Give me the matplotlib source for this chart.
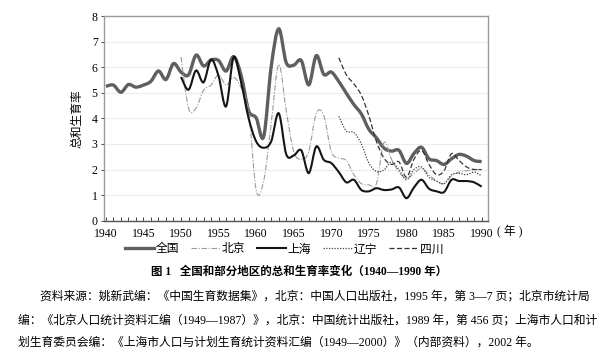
import matplotlib
matplotlib.use("Agg")
import matplotlib.pyplot as plt
from matplotlib.path import Path
from matplotlib.patches import PathPatch
from matplotlib.lines import Line2D
import numpy as np

plt.rcParams['font.family'] = ['Liberation Serif', 'Noto Sans CJK SC']

# === Données ===
annees_nat = list(range(1940, 1991))
quanguo = [5.25, 5.30, 5.02, 5.32, 5.22, 5.30, 5.45, 5.85, 5.52, 6.14,
           5.81, 5.70, 6.47, 6.05, 6.28, 6.26, 5.85, 6.41, 5.68, 4.30,
           4.02, 3.29, 6.02, 7.50, 6.18, 6.08, 6.26, 5.31, 6.45, 5.72,
           5.81, 5.44, 4.98, 4.54, 4.17, 3.57, 3.24, 2.84, 2.72, 2.75,
           2.24, 2.63, 2.87, 2.42, 2.35, 2.20, 2.42, 2.59, 2.52, 2.35, 2.31]

annees_50 = list(range(1950, 1991))
beijing = [6.40, 4.40, 4.40, 5.10, 5.30, 5.70, 5.30, 5.60, 5.20, 4.30,
           1.20, 1.55, 3.80, 6.10, 4.30, 2.70, 2.40, 2.70, 4.20, 4.10,
           2.70, 2.45, 2.35, 1.80, 1.45, 1.40, 1.45, 3.05, 2.40, 1.90,
           1.65, 1.85, 2.05, 1.80, 1.55, 1.45, 1.75, 1.90, 1.95, 2.00, 2.00]
shanghai = [5.62, 5.12, 5.87, 5.41, 6.30, 5.65, 4.47, 6.39, 5.40, 4.00,
            3.10, 2.85, 3.10, 4.20, 2.60, 2.55, 2.75, 1.86, 2.90, 2.38,
            2.25, 1.90, 1.50, 1.60, 1.20, 1.15, 1.27, 1.20, 1.22, 1.30,
            0.88, 1.30, 1.60, 1.25, 1.15, 1.12, 1.60, 1.55, 1.55, 1.50, 1.33]

annees_71 = list(range(1971, 1991))
liaoning = [4.08, 3.50, 3.45, 3.00, 2.25, 1.92, 1.98, 2.30, 2.00, 1.60,
            2.00, 2.10, 1.70, 1.55, 1.45, 1.80, 1.85, 1.80, 1.90, 1.75]
sichuan = [6.37, 5.70, 5.35, 4.90, 4.10, 3.10, 2.45, 2.20, 2.30, 1.70,
           2.40, 2.75, 2.20, 1.80, 1.95, 2.62, 2.35, 2.10, 2.00, 2.00]

series = [
    ("全国", annees_nat, quanguo, dict(color='#5f5f5f', lw=2.4, ls='-')),
    ("北京", annees_50, beijing, dict(color='#9a9a9a', lw=0.8, ls=(0, (5, 1.5, 1, 1.5)))),
    ("上海", annees_50, shanghai, dict(color='#151515', lw=1.5, ls='-')),
    ("辽宁", annees_71, liaoning, dict(color='#444444', lw=0.9, ls=(0, (1, 1.2)))),
    ("四川", annees_71, sichuan, dict(color='#333333', lw=0.9, ls=(0, (4, 2)))),
]


def courbe_lissee(x, y):
    # courbe lissée façon Excel (Bézier cubique, Catmull-Rom)
    p = np.column_stack([x, y]).astype(float)
    pts = np.vstack([p[0], p, p[-1]])
    verts = [tuple(p[0])]
    codes = [Path.MOVETO]
    for i in range(1, len(pts) - 2):
        p0, p1, p2, p3 = pts[i - 1], pts[i], pts[i + 1], pts[i + 2]
        c1 = p1 + (p2 - p0) / 6.0
        c2 = p2 - (p3 - p1) / 6.0
        verts += [tuple(c1), tuple(c2), tuple(p2)]
        codes += [Path.CURVE4] * 3
    return Path(verts, codes)


fig = plt.figure(figsize=(6.01, 3.58), dpi=100)
ax = fig.add_axes([0.173, 0.3835, 0.639, 0.5718])

for nom, xs, ys, st in series:
    patch = PathPatch(courbe_lissee(xs, ys), fill=False, edgecolor=st['color'],
                      lw=st['lw'], linestyle=st['ls'], capstyle='butt', zorder=3)
    ax.add_patch(patch)

ax.set_xlim(1939.75, 1990.85)
ax.set_ylim(0, 8)
ax.set_xticks(range(1940, 1991, 5))
ax.set_xticks(range(1940, 1991), minor=True)
ax.set_yticks(range(0, 9))
ax.grid(axis='y', color='#ececec', lw=0.8)
ax.set_axisbelow(True)
for s in ax.spines.values():
    s.set_color('#9a9a9a')
    s.set_linewidth(1.0)
ax.spines['bottom'].set_color('#555555')
ax.tick_params(axis='x', which='both', direction='in', length=3, width=0.7,
               color='#444444', labelsize=8.5, pad=5)
ax.tick_params(axis='y', direction='out', length=2.5, width=0.7,
               color='#444444', labelsize=8.5, pad=2)
ax.set_ylabel("总和生育率", fontsize=8.5, labelpad=6,
              family=['Noto Sans CJK SC'])

fig.text(497 / 601, 1 - 232 / 358, "( 年 )", fontsize=8.5, va='center', ha='left')

handles = [Line2D([], [], color=st['color'], lw=st['lw'], ls=st['ls'])
           for _, _, _, st in series]
labels = [s[0] for s in series]
fig.legend(handles, labels, loc='center', bbox_to_anchor=(0.473, 1 - 249 / 358),
           ncol=5, frameon=False, handlelength=2.4,
           handletextpad=0.2, columnspacing=1.0,
           prop={'family': ['Noto Sans CJK SC'], 'size': 8.5})

fig.text(0.498, 1 - 272 / 358, "图 1   全国和部分地区的总和生育率变化（1940—1990 年）",
         fontsize=8.3, fontweight='bold', ha='center', va='center')

src = ["资料来源：姚新武编：《中国生育数据集》，北京：中国人口出版社，1995 年，第 3—7 页；北京市统计局",
       "编：《北京人口统计资料汇编（1949—1987）》，北京：中国统计出版社，1989 年，第 456 页；上海市人口和计",
       "划生育委员会编：《上海市人口与计划生育统计资料汇编（1949—2000）》（内部资料），2002 年。"]
fig.text(40 / 601, 1 - 296 / 358, src[0], fontsize=8.5, va='center')
fig.text(18 / 601, 1 - 320 / 358, src[1], fontsize=8.5, va='center')
fig.text(18 / 601, 1 - 343 / 358, src[2], fontsize=8.5, va='center')

fig.savefig("out.png", dpi=100)
